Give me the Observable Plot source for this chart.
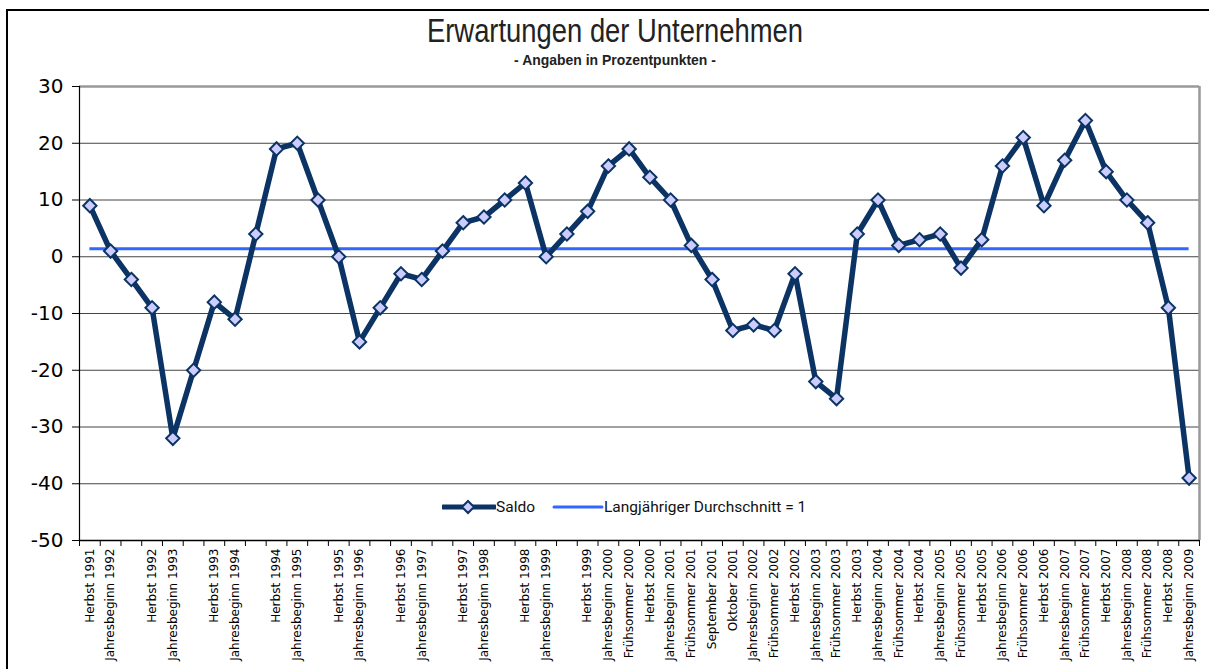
<!DOCTYPE html>
<html>
<head>
<meta charset="utf-8">
<script src="https://cdn.jsdelivr.net/npm/d3@7"></script>
<script src="https://cdn.jsdelivr.net/npm/@observablehq/plot@0.6"></script>
<style>
  html, body { margin: 0; padding: 0; background: #fff; }
  #wrap { position: relative; width: 1209px; height: 669px; overflow: hidden; background: #fff; }
  #frame { position: absolute; left: 6px; top: 9px; width: 1300px; height: 800px; border-left: 2px solid #000; border-top: 2px solid #000; }
  #title { position: absolute; left: 615px; top: 13px; transform: translateX(-50%) scaleX(0.83); white-space: nowrap;
           font-family: "Liberation Sans", Arial, sans-serif; font-size: 33px; color: #222; line-height: 1.1; }
  #subtitle { position: absolute; left: 615px; top: 51px; transform: translateX(-50%) scaleX(0.9); white-space: nowrap;
           font-family: "Liberation Sans", Arial, sans-serif; font-size: 15.5px; font-weight: bold; color: #222; }
  #chart { position: absolute; left: 0; top: 75px; }
  #legend { position: absolute; left: 442px; top: 498px; display: flex; align-items: center; white-space: nowrap;
            font-family: Roboto, "DejaVu Sans", sans-serif; font-size: 15.5px; color: #111; }
  #legend svg { display: block; }
</style>
</head>
<body>
<div id="wrap">
  <div id="frame"></div>
  <div id="title">Erwartungen der Unternehmen</div>
  <div id="subtitle">- Angaben in Prozentpunkten -</div>
  <div id="chart"></div>
  <div id="legend"></div>
</div>
<script>
const labels = [
  "Herbst 1991", "Jahresbeginn 1992", "", "Herbst 1992", "Jahresbeginn 1993", "",
  "Herbst 1993", "Jahresbeginn 1994", "", "Herbst 1994", "Jahresbeginn 1995", "",
  "Herbst 1995", "Jahresbeginn 1996", "", "Herbst 1996", "Jahresbeginn 1997", "",
  "Herbst 1997", "Jahresbeginn 1998", "", "Herbst 1998", "Jahresbeginn 1999", "",
  "Herbst 1999", "Jahresbeginn 2000", "Frühsommer 2000", "Herbst 2000",
  "Jahresbeginn 2001", "Frühsommer 2001", "September 2001", "Oktober 2001",
  "Jahresbeginn 2002", "Frühsommer 2002", "Herbst 2002",
  "Jahresbeginn 2003", "Frühsommer 2003", "Herbst 2003",
  "Jahresbeginn 2004", "Frühsommer 2004", "Herbst 2004",
  "Jahresbeginn 2005", "Frühsommer 2005", "Herbst 2005",
  "Jahresbeginn 2006", "Frühsommer 2006", "Herbst 2006",
  "Jahresbeginn 2007", "Frühsommer 2007", "Herbst 2007",
  "Jahresbeginn 2008", "Frühsommer 2008", "Herbst 2008", "Jahresbeginn 2009"
];
const saldo = [
  9, 1, -4, -9, -32, -20, -8, -11, 4, 19,
  20, 10, 0, -15, -9, -3, -4, 1, 6, 7,
  10, 13, 0, 4, 8, 16, 19, 14, 10, 2,
  -4, -13, -12, -13, -3, -22, -25, 4, 10, 2,
  3, 4, -2, 3, 16, 21, 9, 17, 24, 15,
  10, 6, -9, -39
];
const average = 1.4;
const yTicks = [-50, -40, -30, -20, -10, 0, 10, 20, 30];
const seriesNames = ["Saldo", "Langjähriger Durchschnitt = 1"];
const colors = { saldo: "#0b3363", marker: "#ccccff", average: "#3366ff" };

const data = saldo.map((v, k) => ({ i: k + 1, v, label: labels[k] }));
const n = saldo.length;
const centers = data.map(d => d.i);
const bounds = d3.range(0, n + 1).map(k => k + 0.5);

const chart = Plot.plot({
  width: 1209,
  height: 594,
  marginLeft: 79,
  marginRight: 10,
  marginTop: 11,
  marginBottom: 129,
  x: { domain: [0.5, n + 0.5] },
  y: { domain: [yTicks[0], yTicks[yTicks.length - 1]] },
  style: { background: "transparent", fontFamily: "'DejaVu Sans', sans-serif", color: "#000" },
  marks: [
    Plot.ruleY(yTicks.slice(1, -1), { stroke: "#444", strokeWidth: 1 }),
    Plot.ruleY(yTicks.slice(-1), { stroke: "#999", strokeWidth: 2.5 }),
    Plot.ruleX(bounds.slice(-1), { stroke: "#999", strokeWidth: 2.5 }),
    Plot.ruleX(bounds.slice(0, 1), { stroke: "#000", strokeWidth: 1.2 }),
    Plot.ruleY(yTicks.slice(0, 1), { stroke: "#000", strokeWidth: 1.5 }),
    Plot.axisY({ ticks: yTicks, tickSize: 7, tickPadding: 9, fontSize: 20, label: null,
                 tickFormat: d => String(d) }),
    Plot.axisX({ ticks: bounds, tickSize: 6, tickFormat: () => "", label: null }),
    Plot.axisX({ ticks: centers, tickSize: 0, tickPadding: 8, tickRotate: -90, fontSize: 12,
                 label: null, tickFormat: i => labels[i - 1] }),
    Plot.ruleY([average], { x1: 1, x2: n, stroke: colors.average, strokeWidth: 3 }),
    Plot.line(data, { x: "i", y: "v", stroke: colors.saldo, strokeWidth: 5.5, strokeLinejoin: "round" }),
    Plot.dot(data, { x: "i", y: "v", symbol: "diamond2", r: 6, fill: colors.marker,
                     stroke: colors.saldo, strokeWidth: 2 })
  ]
});
document.getElementById("chart").appendChild(chart);

const legend = document.getElementById("legend");
legend.innerHTML = `
  <svg width="54" height="16"><line x1="1" y1="8" x2="53" y2="8" stroke="${colors.saldo}" stroke-width="5" stroke-linecap="round"/>
    <path d="M26,2 L32,8 L26,14 L20,8 Z" fill="${colors.marker}" stroke="${colors.saldo}" stroke-width="2"/></svg>
  <span>${seriesNames[0]}</span>
  <svg width="52" height="16" style="margin-left:17px"><line x1="2" y1="8" x2="50" y2="8" stroke="${colors.average}" stroke-width="3" stroke-linecap="round"/></svg>
  <span>${seriesNames[1]}</span>`;
</script>
</body>
</html>
